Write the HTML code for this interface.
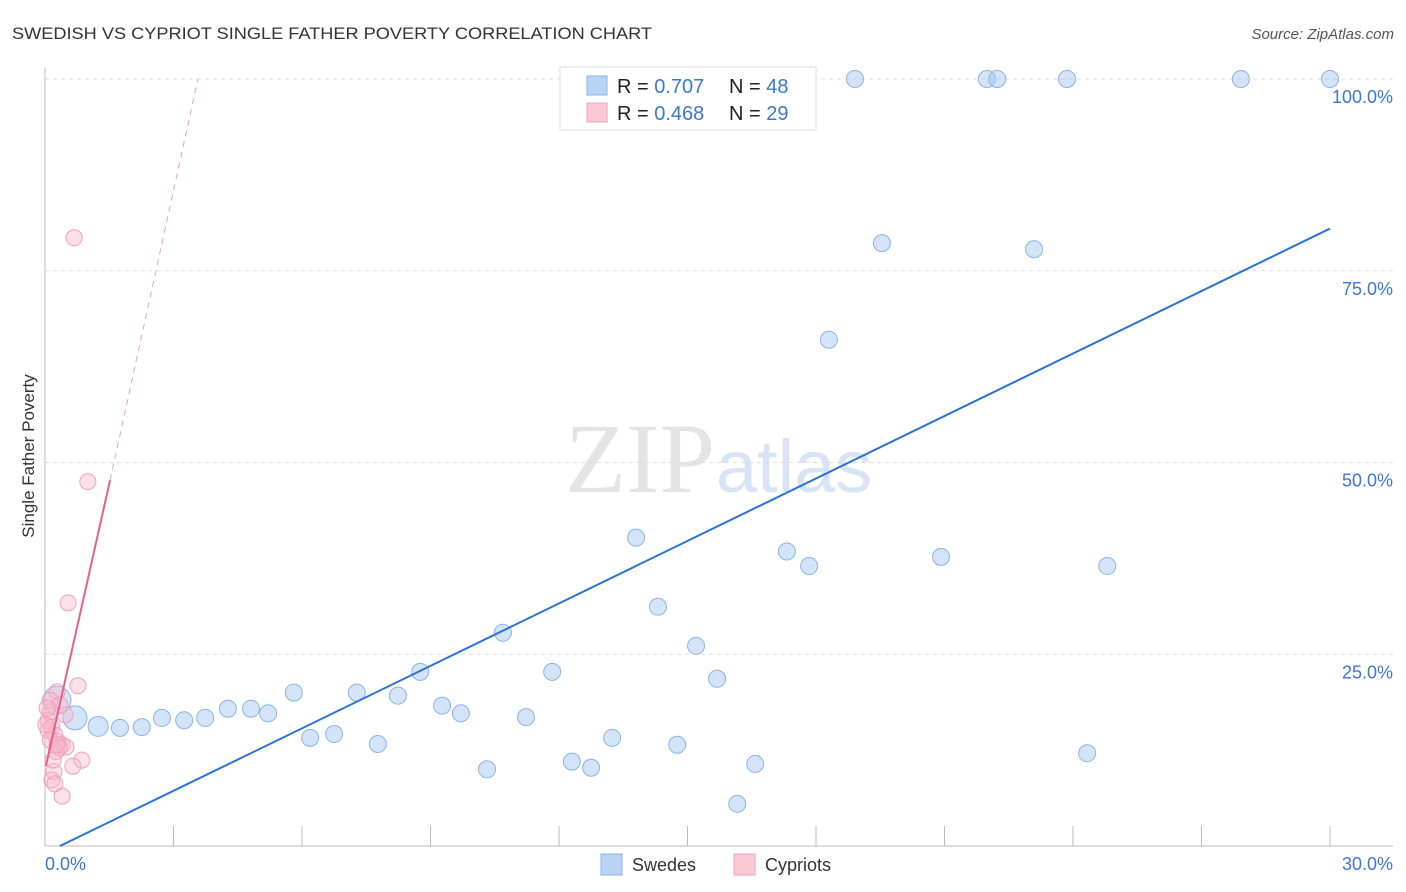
<!DOCTYPE html>
<html><head><meta charset="utf-8"><style>
body{margin:0;background:#fff;font-family:"Liberation Sans",sans-serif;}
svg{display:block}
</style></head><body>
<svg id="chart" width="1406" height="892" viewBox="0 0 1406 892" xmlns="http://www.w3.org/2000/svg">
<text x="12" y="39" font-size="17" fill="#333" textLength="640" lengthAdjust="spacingAndGlyphs">SWEDISH VS CYPRIOT SINGLE FATHER POVERTY CORRELATION CHART</text>
<text x="1394" y="39" font-size="15" fill="#555" font-style="italic" text-anchor="end">Source: ZipAtlas.com</text>
<text x="715" y="492" font-size="100" text-anchor="end" fill="#e4e4e4" font-family="Liberation Serif,serif">ZIP</text>
<text x="716" y="492" font-size="74" fill="#d6e4f5">atlas</text>
<g id="grid"></g>
<g id="axes"></g>
<g id="marks"></g>
<text transform="translate(34,456) rotate(-90)" font-size="17" fill="#333" text-anchor="middle">Single Father Poverty</text>
<g>
<rect x="560" y="67" width="256" height="63" fill="#fff" stroke="#ddd"/>
<rect x="587" y="76" width="20" height="19" fill="#b8d4f5" stroke="#8ab4e8"/>
<rect x="587" y="103" width="20" height="19" fill="#fcc8d6" stroke="#f0a0b8"/>
<text x="617" y="93" font-size="20" fill="#222">R = <tspan fill="#3a78d4">0.707</tspan></text>
<text x="729" y="93" font-size="20" fill="#222">N = <tspan fill="#3a78d4">48</tspan></text>
<text x="617" y="120" font-size="20" fill="#222">R = <tspan fill="#3a78d4">0.468</tspan></text>
<text x="729" y="120" font-size="20" fill="#222">N = <tspan fill="#3a78d4">29</tspan></text>
</g>
<g>
<rect x="601" y="854" width="21" height="21" fill="#b8d4f5" stroke="#8ab4e8"/>
<text x="632" y="871" font-size="18" fill="#333">Swedes</text>
<rect x="734" y="854" width="21" height="21" fill="#fcc8d6" stroke="#f0a0b8"/>
<text x="765" y="871" font-size="18" fill="#333">Cypriots</text>
</g>
</svg>
<script>
const yTicks=[25,50,75,100];
const yTickLabels=["25.0%","50.0%","75.0%","100.0%"];
const xTicks=[0,3,6,9,12,15,18,21,24,27,30];
const blueX=[18.91,21.99,22.23,23.86,27.92,30.0,19.54,23.09,18.30,13.80,17.32,17.84,20.92,24.80,14.31,10.69,15.20,8.76,11.84,15.69,5.81,7.28,8.24,9.27,9.71,11.23,4.27,4.81,5.21,2.73,3.25,3.74,1.75,2.26,1.24,0.70,0.28,6.19,6.75,7.77,13.24,14.76,10.32,12.30,12.75,16.58,16.16,24.33];
const blueY=[100,100,100,100,100,100,78.6,77.8,66.0,40.2,38.4,36.5,37.7,36.5,31.2,27.8,26.1,22.7,22.7,21.8,20.0,20.0,19.6,18.3,17.3,16.8,17.9,17.9,17.3,16.7,16.4,16.7,15.4,15.5,15.6,16.7,19.0,14.1,14.6,13.3,14.1,13.2,10.0,11.0,10.2,10.7,5.5,12.1];
const pinkX=[0.68,1.00,0.54,0.77,0.28,0.12,0.35,0.12,0.07,0.16,0.23,0.30,0.40,0.49,0.26,0.86,0.65,0.21,0.16,0.23,0.40,0.07,0.12,0.47,0.33,0.05,0.19,0.28,0.02];
const pinkY=[79.3,47.5,31.7,20.9,20.1,19.0,18.4,17.5,16.4,15.5,14.5,13.6,13.2,12.9,12.3,11.2,10.4,9.7,8.6,8.1,6.5,15.1,13.8,17.1,12.8,18.0,11.2,13.2,15.8];
const blueTrend=[0.35,0,30,80.5];
const pinkTrend=[0.02,10.4,1.52,47.7];
const pinkDash=[1.52,47.7,3.57,100];
const NS="http://www.w3.org/2000/svg";
const X=v=>45+v*(1285/30), Y=v=>846-v*(767/100);
function mk(t,a,p){const e=document.createElementNS(NS,t);for(const k in a)e.setAttribute(k,a[k]);document.getElementById(p).appendChild(e);return e;}
yTicks.forEach((t,i)=>{
 const g=mk('line',{x1:45,x2:1393,y1:Y(t),y2:Y(t),stroke:'#ddd','stroke-dasharray':'4,4'},'grid');
 
 
 const l=mk('text',{x:1393,y:Y(t)+24,'font-size':18,fill:'#3a78d4','text-anchor':'end'},'axes');
 l.textContent=yTickLabels[i];
 
 
});
let a=mk('line',{x1:45,x2:45,y1:68,y2:846,stroke:'#bbb'},'axes');


a=mk('line',{x1:45,x2:1393,y1:846,y2:846,stroke:'#bbb'},'axes');


xTicks.forEach(t=>{const e=mk('line',{x1:X(t),x2:X(t),y1:826,y2:846,stroke:'#bbb'},'axes');
 
 });
let l=mk('text',{x:45,y:870,'font-size':18,fill:'#3a78d4'},'axes');l.textContent='0.0%';


l=mk('text',{x:1393,y:870,'font-size':18,fill:'#3a78d4','text-anchor':'end'},'axes');l.textContent='30.0%';


blueX.forEach((x,i)=>{let r=8.5;if(i==36)r=14;if(i==35)r=12;if(i==34)r=10;
 const c=mk('circle',{cx:X(x),cy:Y(blueY[i]),r:r,fill:'rgba(160,196,240,0.45)',stroke:'#8ab4e8','stroke-width':1},'marks');
 
 });
pinkX.forEach((x,i)=>{const c=mk('circle',{cx:X(x),cy:Y(pinkY[i]),r:8,fill:'rgba(250,180,200,0.4)',stroke:'#f0a0b8','stroke-width':1},'marks');
 
 });
let t=mk('line',{x1:X(blueTrend[0]),y1:Y(blueTrend[1]),x2:X(blueTrend[2]),y2:Y(blueTrend[3]),stroke:'#2a72d8','stroke-width':2},'marks');


t=mk('line',{x1:X(pinkTrend[0]),y1:Y(pinkTrend[1]),x2:X(pinkTrend[2]),y2:Y(pinkTrend[3]),stroke:'#e8608a','stroke-width':2},'marks');


t=mk('line',{x1:X(pinkDash[0]),y1:Y(pinkDash[1]),x2:X(pinkDash[2]),y2:Y(pinkDash[3]),stroke:'#e8a0b8','stroke-width':1,'stroke-dasharray':'6,5'},'marks');


</script>
</body></html>
